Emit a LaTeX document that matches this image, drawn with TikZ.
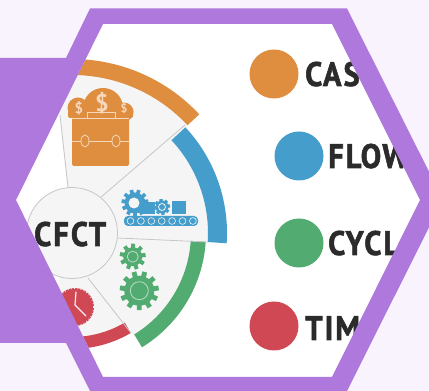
\documentclass[tikz,border=0pt]{standalone}
\usepackage{fontspec}
\setmainfont{PT Sans}
\newfontfamily\lblfont[LetterSpace=6,FakeStretch=0.9,FakeBold=1.6]{PT Sans Bold}
\definecolor{bgc}{HTML}{F8F3FC}
\definecolor{ringc}{HTML}{AF78DD}
\definecolor{orc}{HTML}{DF8E3F}
\definecolor{blc}{HTML}{459DCB}
\definecolor{grc}{HTML}{52AB70}
\definecolor{rdc}{HTML}{CF4854}
\definecolor{txc}{HTML}{2B2B2B}
\definecolor{secc}{HTML}{F5F5F5}
\definecolor{sepc}{HTML}{C6C6C6}
\tikzset{
  px/.style={x=1pt,y=1pt},
  lbl/.style={anchor=base west,inner sep=0pt,text=txc,font=\lblfont\fontsize{34}{34}\selectfont},
  sepline/.style={draw=sepc,line width=0.8pt},
  hl/.style={draw=#1,line width=0.8pt},
  dot/.style={circle,minimum size=49pt,inner sep=0pt}
}
\newcommand{\band}[5]{\fill[#5] ($(o)+(#1:#3)$) arc[start angle=#1,end angle=#2,radius=#3] -- ($(o)+(#2:#4)$) arc[start angle=#2,end angle=#1,radius=#4] -- cycle;}
\newcommand{\sector}[3]{\fill[secc] (o) -- ($(o)+(#1:#3)$) arc[start angle=#1,end angle=#2,radius=#3] -- cycle;}
\newcommand{\gearshape}[6]{%
  \fill[#6] (#1,#2) circle[radius=#3];
  \pgfmathsetmacro{\gstep}{360/#5}
  \pgfmathsetmacro{\gw}{#3*2.9/#5+0.9}
  \foreach \k in {1,...,#5}{
    \draw[#6,line width=\gw pt] (#1,#2) -- ++({\k*\gstep+8}:#4);
  }}
\usetikzlibrary{calc}
\begin{document}
\begin{tikzpicture}[px]
\useasboundingbox (0,0) rectangle (429,391);
\fill[bgc] (0,0) rectangle (429,391);
\fill[white] (103,367) -- (332,367) -- (420,191) -- (332,14) -- (103,14) -- (16,191) -- cycle;
\coordinate (o) at (72,158);
\begin{scope}
\clip (103,367) -- (332,367) -- (420,191) -- (332,14) -- (103,14) -- (16,191) -- cycle;
% sectors
\sector{43}{96}{160}
\sector{-3.8}{43}{138}
\sector{-59}{-3.8}{120}
\sector{-105}{-59}{106}
% bands
\band{43}{115}{174}{158}{orc}
\band{-3.8}{43}{155}{136}{blc}
\band{-58.5}{-3.8}{134}{119}{grc}
\band{-105}{-59.5}{116}{104}{rdc}
\end{scope}
% separators
\coordinate (s1a) at (68,204); \coordinate (s1b) at (60,276);
\coordinate (s2a) at (100,193); \coordinate (s2b) at (185,266);
\coordinate (s3a) at (118,153); \coordinate (s3b) at (207,149);
\coordinate (s4a) at (88,113); \coordinate (s4b) at (131,58);
\draw[sepline] (s1a) -- (s1b);
\draw[sepline] (s2a) -- (s2b);
\draw[sepline] (s3a) -- (s3b);
\draw[sepline] (s4a) -- (s4b);
% hub
\node[circle,draw=sepc,fill=secc,line width=0.8pt,minimum size=91pt,inner sep=0pt] (hub) at (o) {};
\node[lbl] (hubtext) at (34,145) {CFCT};
% briefcase icon
\fill[orc] (103,283) circle[radius=20];
\fill[orc] (78,283) circle[radius=10.5];
\fill[orc] (124,279) circle[radius=9.5];
\fill[orc,rounded corners=1.5pt] (68,273) rectangle (133,283);
\fill[orc,rounded corners=1.5pt] (72,225) rectangle (129,276);
\draw[hl=orc!35!white] (72,273) -- (129,273);
\draw[hl=orc!35!white] (87,279) rectangle (115,273);
\draw[hl=orc!35!white] (72,250) -- (81,250) (89,250) -- (112,250) (120,250) -- (129,250);
\draw[hl=orc!35!white] (85,250) ellipse[x radius=4,y radius=6];
\draw[hl=orc!35!white] (116,250) ellipse[x radius=4,y radius=6];
\node[text=orc!35!white,inner sep=0pt,font=\bfseries\fontsize{24}{24}\selectfont] (dollar1) at (102,288) {\$};
\node[text=orc!35!white,inner sep=0pt,font=\bfseries\fontsize{15}{15}\selectfont] (dollar2) at (79,283) {\$};
\node[text=orc!35!white,inner sep=0pt,font=\bfseries\fontsize{12}{12}\selectfont] (dollar3) at (124,283) {\$};
% conveyor icon
\gearshape{135}{188}{10.5}{13.5}{11}{blc}
\fill[secc] (134,188) circle[radius=5.5];
\fill[blc] (141,177) rectangle (155,189);
\fill[blc] (172,177) rectangle (186,190);
\gearshape{162}{184}{6.5}{8}{8}{blc}
\draw[hl=secc] (162,184) circle[radius=3.5];
\fill[blc,rounded corners=4pt] (124,165) rectangle (198,175);
\foreach \k in {0,...,6}{
  \draw[hl=secc,line width=0.6pt] ({130.5+\k*10.4},170) circle[radius=3.4];
}
% green gears
\gearshape{132.7}{134.3}{9.5}{13}{9}{grc}
\draw[hl=grc!40!white] (132.7,134.3) circle[radius=5.5];
\gearshape{139.3}{100.3}{15}{19.5}{11}{grc}
\draw[hl=grc!40!white] (139.3,100.3) circle[radius=9];
% clock
\fill[rdc] (75,84) circle[radius=19];
\draw[secc,line width=0.7pt,dash pattern=on 1pt off 2.2pt] (75,84) circle[radius=18.5];
\draw[white!90!rdc,line width=1.2pt,line cap=round] (76,99) -- (75,86) -- (86,75);
% legend
\node[dot,fill=orc] (d1) at (274,317) {};
\node[dot,fill=blc] (d2) at (299,235) {};
\node[dot,fill=grc] (d3) at (299,148) {};
\node[dot,fill=rdc] (d4) at (274,65) {};
\node[lbl] (t1) at (305,305) {CAS};
\node[lbl] (t2) at (328,223) {FLOW};
\node[lbl] (t3) at (328,136) {CYCL};
\node[lbl] (t4) at (305,51) {TIM};
% hexagon frame with panel
\fill[ringc,even odd rule]
  (0,333) -- (66,333) -- (90,382.5) -- (347,382.5) -- (443,191.5) -- (347,0) -- (90,0) -- (66,48) -- (0,48) -- cycle
  (103,367) -- (332,367) -- (420,191) -- (332,14) -- (103,14) -- (16,191) -- cycle;
\end{tikzpicture}
\end{document}
